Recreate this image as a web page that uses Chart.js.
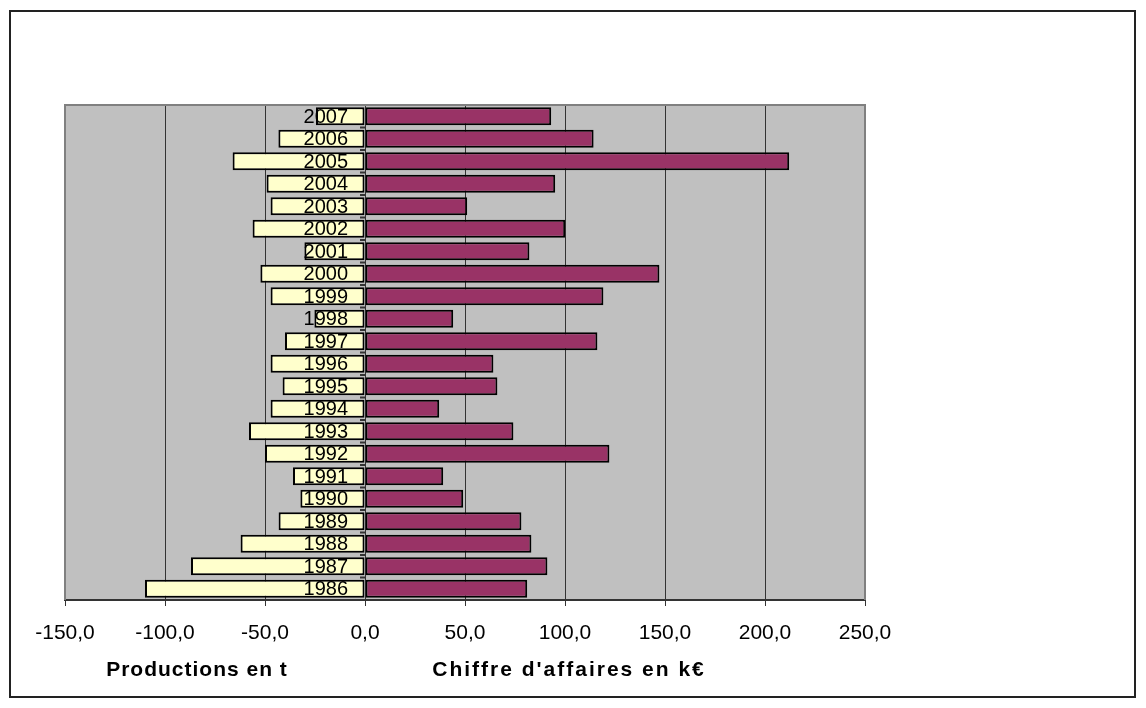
<!DOCTYPE html>
<html>
<head>
<meta charset="utf-8">
<script src="https://cdn.jsdelivr.net/npm/chart.js@4/dist/chart.umd.min.js"></script>
<style>
  html, body { margin: 0; padding: 0; background: #fff; }
</style>
</head>
<body>
<canvas id="prodChart" width="1146" height="708"></canvas>
<script>
const years = [
  "1986", "1987", "1988", "1989", "1990", "1991", "1992", "1993", "1994", "1995", "1996",
  "1997", "1998", "1999", "2000", "2001", "2002", "2003", "2004", "2005", "2006", "2007",
];
// productions (t), shown as negative to the left
const production = [
  -110, -87, -62.2, -43.2, -32.3, -36, -50, -58, -47.2, -41.2, -47.2,
  -40, -25.3, -47.2, -52.3, -30.3, -56.2, -47.2, -49.2, -66.2, -43.3, -24.5,
];
// chiffre d'affaires (k€)
const revenue = [
  81.1, 91.2, 83.2, 78.2, 49.1, 39.1, 122.2, 74.2, 37.1, 66.2, 64.2,
  116.2, 44.1, 119.2, 147.2, 82.2, 100.1, 51.1, 95.1, 212.1, 114.3, 93.1,
];
const xTicks = [-150, -100, -50, 0, 50, 100, 150, 200, 250];
const axisTitles = [
  { text: "Productions en t", at: -84, spacing: "1px" },
  { text: "Chiffre d'affaires en k€", at: 102, spacing: "2px" },
];

const FONT = "'Liberation Sans', Arial, sans-serif";

const framePlugin = {
  id: "frame",
  beforeDraw(chart) {
    const { ctx, chartArea: a } = chart;
    ctx.save();
    ctx.fillStyle = "#fff";
    ctx.fillRect(0, 0, chart.width, chart.height);
    ctx.strokeStyle = "#222";
    ctx.lineWidth = 2;
    ctx.strokeRect(10, 11, 1125, 686);
    ctx.fillStyle = "#c0c0c0";
    ctx.fillRect(a.left, a.top, a.right - a.left, a.bottom - a.top);
    ctx.restore();
  },
  beforeDatasetsDraw(chart) {
    const { ctx, chartArea: a } = chart;
    ctx.save();
    ctx.strokeStyle = "#808080";
    ctx.lineWidth = 2;
    ctx.beginPath();
    ctx.moveTo(a.left, a.bottom);
    ctx.lineTo(a.left, a.top);
    ctx.lineTo(a.right, a.top);
    ctx.lineTo(a.right, a.bottom);
    ctx.stroke();
    ctx.restore();
  },
  afterDatasetsDraw(chart) {
    const { ctx } = chart;
    const xs = chart.scales.x;
    const ys = chart.scales.y;
    const x0 = xs.getPixelForValue(0);

    // small tick marks on the zero axis, between categories
    ctx.save();
    ctx.strokeStyle = "#333";
    ctx.lineWidth = 2;
    const step = Math.abs(ys.getPixelForValue(1) - ys.getPixelForValue(0));
    for (let i = 0; i < years.length; i++) {
      const y = ys.getPixelForValue(i) + step / 2;
      ctx.beginPath();
      ctx.moveTo(x0 - 5, y);
      ctx.lineTo(x0, y);
      ctx.stroke();
    }

    // year labels
    ctx.fillStyle = "#000";
    ctx.font = "20px " + FONT;
    ctx.textAlign = "right";
    ctx.textBaseline = "middle";
    years.forEach((year, i) => {
      ctx.fillText(year, x0 - 17, ys.getPixelForValue(i) + 1);
    });

    // axis titles under the tick labels
    ctx.font = "bold 21px " + FONT;
    ctx.textAlign = "center";
    axisTitles.forEach((t) => {
      ctx.letterSpacing = t.spacing;
      ctx.fillText(t.text, xs.getPixelForValue(t.at), 670);
    });
    ctx.restore();
  },
};

const ctx = document.getElementById("prodChart").getContext("2d");
new Chart(ctx, {
  type: "bar",
  data: {
    labels: years,
    datasets: [
      {
        label: "Productions en t",
        data: production,
        backgroundColor: "#ffffcc",
        borderColor: "#000",
        borderWidth: 2,
        borderSkipped: false,
      },
      {
        label: "Chiffre d'affaires en k€",
        data: revenue,
        backgroundColor: "#993366",
        borderColor: "#000",
        borderWidth: 2,
        borderSkipped: false,
      },
    ],
  },
  options: {
    indexAxis: "y",
    responsive: false,
    animation: false,
    devicePixelRatio: 1,
    datasets: {
      bar: {
        barPercentage: 0.8,
        categoryPercentage: 1,
      },
    },
    layout: {
      padding: { left: 65, right: 281, top: 105, bottom: 0 },
    },
    plugins: {
      legend: { display: false },
      tooltip: { enabled: false },
    },
    scales: {
      x: {
        stacked: true,
        min: -150,
        max: 250,
        afterBuildTicks: function (scale) {
          scale.ticks = xTicks.map((v) => ({ value: v }));
        },
        afterFit: function (scale) {
          scale.height = 108;
        },
        ticks: {
          color: "#000",
          padding: 15,
          maxRotation: 0,
          font: { size: 21, family: FONT },
          callback: function (value) {
            return value.toFixed(1).replace(".", ",");
          },
        },
        grid: {
          color: "#333",
          lineWidth: 1,
          tickLength: 6,
        },
        border: {
          display: true,
          color: "#333",
          width: 2,
        },
      },
      y: {
        stacked: true,
        reverse: true,
        display: false,
      },
    },
  },
  plugins: [framePlugin],
});
</script>
</body>
</html>
